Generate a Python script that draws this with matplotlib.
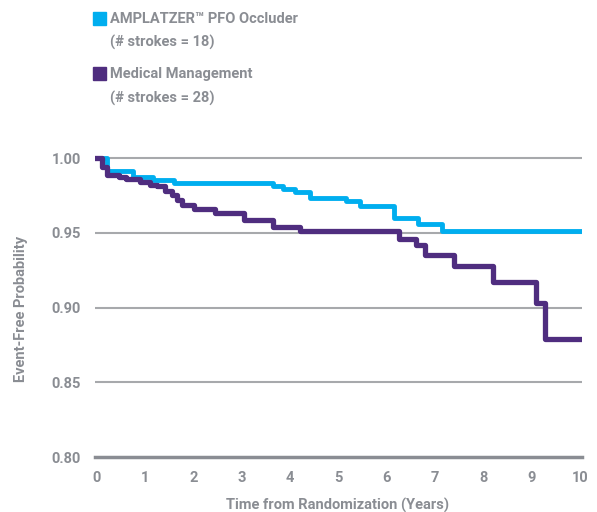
import matplotlib.pyplot as plt

# Kaplan-Meier style step data
t_pfo = [0, 0.2, 0.75, 1.15, 1.6, 3.65, 3.85, 4.1, 4.4, 5.15, 5.45, 6.15, 6.65, 7.15, 10]
s_pfo = [1.0, 0.991, 0.9875, 0.985, 0.983, 0.981, 0.979, 0.977, 0.973, 0.971, 0.968,
         0.960, 0.956, 0.951, 0.951]

t_med = [0, 0.1, 0.2, 0.45, 0.6, 0.9, 1.1, 1.25, 1.4, 1.55, 1.65, 1.75, 2.0, 2.45,
         3.05, 3.65, 4.2, 6.25, 6.6, 6.8, 7.4, 8.2, 9.08, 9.27, 10]
s_med = [1.0, 0.994, 0.9886, 0.9875, 0.986, 0.984, 0.982, 0.981, 0.978, 0.975, 0.972,
         0.9685, 0.966, 0.963, 0.9585, 0.954, 0.951, 0.946, 0.942, 0.935, 0.928, 0.917,
         0.903, 0.879, 0.879]

yticks = [0.80, 0.85, 0.90, 0.95, 1.00]
xticks = list(range(0, 11))

blue = '#00AEEF'
purple = '#4F2D7F'
grey = '#8A8D93'

plt.rcParams['font.family'] = ['Roboto', 'DejaVu Sans']

fig = plt.figure(figsize=(5.97, 5.12), dpi=100)
ax = fig.add_axes([95 / 597, 1 - 457 / 512, 487 / 597, 307 / 512])

ax.set_xlim(-2 / 48.3, 10 + 2 / 48.3)
ax.set_ylim(0.80, 1.0 + 8 / 1494)

for y in yticks[1:]:
    ax.axhline(y, color='#A7A9AC', lw=1.5, zorder=1)
ax.axhline(0.80, color=grey, lw=2.5, zorder=1, clip_on=False)

ax.step(t_pfo, s_pfo, where='post', color=blue, lw=3.5, zorder=3)
ax.step(t_med, s_med, where='post', color=purple, lw=3.8, zorder=4)

for s in ax.spines.values():
    s.set_visible(False)
ax.set_yticks(yticks)
ax.set_yticklabels(['%.2f' % v for v in yticks])
ax.set_xticks(xticks)
ax.tick_params(length=0, colors=grey, labelsize=10.5)
ax.tick_params(axis='y', pad=10)
ax.tick_params(axis='x', pad=10)
for lab in ax.get_xticklabels() + ax.get_yticklabels():
    lab.set_fontweight('bold')

fig.text(338 / 597, 1 - 505 / 512, 'Time from Randomization (Years)', color=grey,
         fontsize=10.5, fontweight='bold', ha='center', va='center')
fig.text(21 / 597, 1 - 309 / 512, 'Event-Free Probability', color=grey,
         fontsize=10.5, fontweight='bold', ha='center', va='center', rotation=90)

# legend drawn by hand at the top
fig.patches.append(plt.Rectangle((93 / 597, 1 - 25 / 512), 13 / 597, 13 / 512,
                                 color=blue, transform=fig.transFigure))
fig.patches.append(plt.Rectangle((93 / 597, 1 - 80 / 512), 13 / 597, 13 / 512,
                                 color=purple, transform=fig.transFigure))
legend_txt = [('AMPLATZER\u2122 PFO Occluder', 19), ('(# strokes = 18)', 42),
              ('Medical Management', 74), ('(# strokes = 28)', 98)]
for txt, ypix in legend_txt:
    fig.text(110 / 597, 1 - ypix / 512, txt, color=grey, fontsize=10.5,
             fontweight='bold', va='center', ha='left')

fig.savefig('out.png', dpi=100)
